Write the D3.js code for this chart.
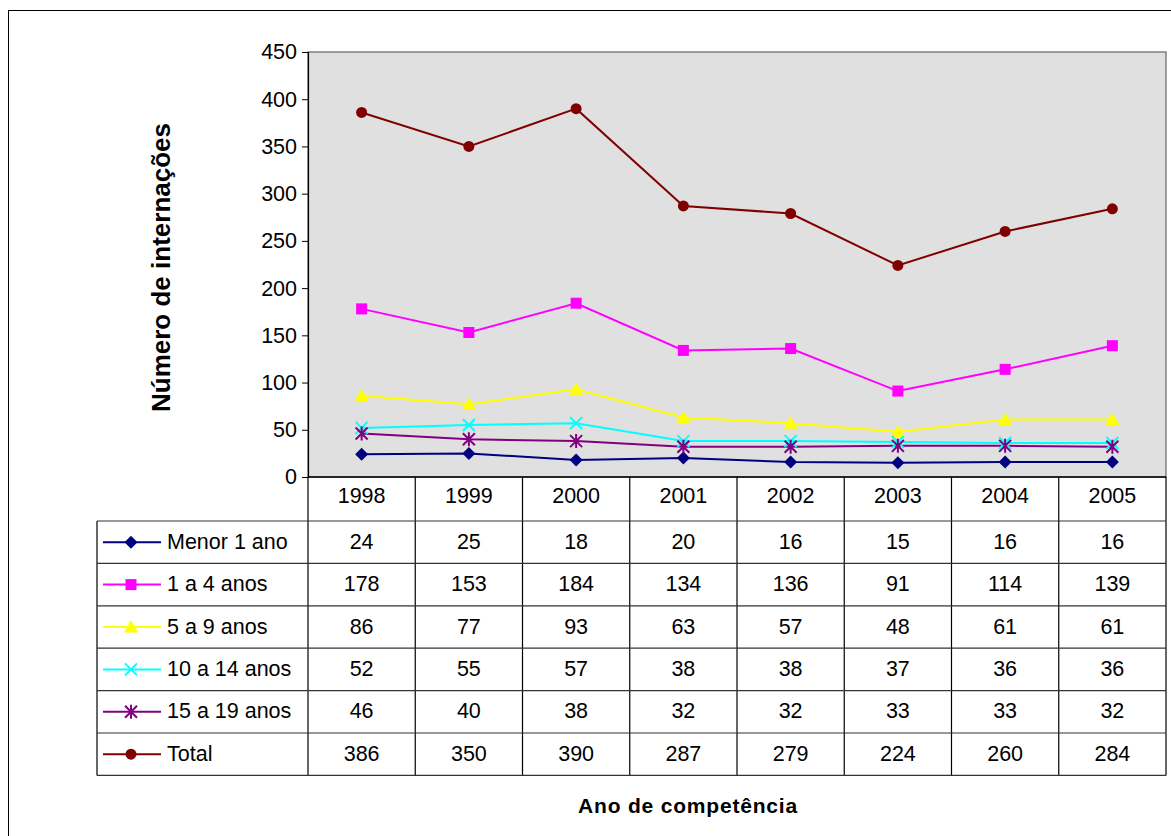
<!DOCTYPE html>
<html>
<head>
<meta charset="utf-8">
<script src="https://cdn.jsdelivr.net/npm/d3@7"></script>
<style>
  body { margin: 0; background: #fff; }
  text { font-family: Arial, "Liberation Sans", sans-serif; }
</style>
</head>
<body>
<div id="chart"></div>
<script>
// data
var years = ["1998", "1999", "2000", "2001", "2002", "2003", "2004", "2005"];
var seriesNames = ["Menor 1 ano", "1 a 4 anos", "5 a 9 anos", "10 a 14 anos", "15 a 19 anos", "Total"];
var menor1 = [24, 25, 18, 20, 16, 15, 16, 16];
var anos1a4 = [178, 153, 184, 134, 136, 91, 114, 139];
var anos5a9 = [86, 77, 93, 63, 57, 48, 61, 61];
var anos10a14 = [52, 55, 57, 38, 38, 37, 36, 36];
var anos15a19 = [46, 40, 38, 32, 32, 33, 33, 32];
var total = [386, 350, 390, 287, 279, 224, 260, 284];
var yTicks = [0, 50, 100, 150, 200, 250, 300, 350, 400, 450];

var colors = ["#000080", "#ff00ff", "#ffff00", "#00ffff", "#800080", "#800000"];
var markers = ["diamond", "square", "triangle", "x", "star", "circle"];
var allValues = [menor1, anos1a4, anos5a9, anos10a14, anos15a19, total];

var series = seriesNames.map(function(name, i) {
  return {name: name, values: allValues[i], color: colors[i], marker: markers[i]};
});

var W = 1171, H = 836;
var FS = "21.5px";
var svg = d3.select("#chart").append("svg")
  .attr("width", W).attr("height", H);

// outer frame
svg.append("rect")
  .attr("x", 8.5).attr("y", 10.5)
  .attr("width", 1175).attr("height", 840)
  .attr("fill", "none").attr("stroke", "#000").attr("stroke-width", 1);

var plot = {left: 308, right: 1166, top: 52, bottom: 477};

var x = d3.scaleBand()
  .domain(years)
  .range([plot.left, plot.right]);

var y = d3.scaleLinear()
  .domain([0, 450])
  .range([plot.bottom, plot.top]);

// plot background
svg.append("rect")
  .attr("x", plot.left).attr("y", plot.top)
  .attr("width", plot.right - plot.left).attr("height", plot.bottom - plot.top)
  .attr("fill", "#e0e0e0").attr("stroke", "#808080").attr("stroke-width", 1.5);

// y axis
var yAxis = svg.append("g")
  .attr("transform", "translate(" + plot.left + ",0)")
  .call(d3.axisLeft(y).tickValues(yTicks).tickSize(6).tickPadding(5));
yAxis.selectAll("text").style("font-size", FS).attr("fill", "#000")
  .style("font-family", "Arial, 'Liberation Sans', sans-serif");
yAxis.selectAll("line").attr("stroke", "#000");
yAxis.select(".domain").attr("stroke", "#000").attr("stroke-width", 1.2);

// y axis title
svg.append("text")
  .attr("transform", "translate(170," + ((plot.top + plot.bottom) / 2 + 3) + ") rotate(-90)")
  .attr("text-anchor", "middle")
  .style("font-size", "26px").style("font-weight", "bold")
  .text("Número de internações");

// lines
var line = d3.line()
  .x(function(d, i) { return x(years[i]) + x.bandwidth() / 2; })
  .y(function(d) { return y(d); });

series.forEach(function(s) {
  svg.append("path")
    .datum(s.values)
    .attr("d", line)
    .attr("fill", "none")
    .attr("stroke", s.color)
    .attr("stroke-width", 2);
});

function drawMarker(g, type, color, cx, cy) {
  if (type === "diamond") {
    g.append("path").attr("d", "M" + cx + "," + (cy - 6.5) + "L" + (cx + 6.5) + "," + cy + "L" + cx + "," + (cy + 6.5) + "L" + (cx - 6.5) + "," + cy + "Z")
      .attr("fill", color);
  } else if (type === "square") {
    g.append("rect").attr("x", cx - 5.5).attr("y", cy - 5.5).attr("width", 11).attr("height", 11).attr("fill", color);
  } else if (type === "triangle") {
    g.append("path").attr("d", "M" + cx + "," + (cy - 7) + "L" + (cx + 7) + "," + (cy + 5.5) + "L" + (cx - 7) + "," + (cy + 5.5) + "Z")
      .attr("fill", color);
  } else if (type === "x") {
    g.append("path").attr("d", "M" + (cx - 6) + "," + (cy - 6) + "L" + (cx + 6) + "," + (cy + 6) + "M" + (cx + 6) + "," + (cy - 6) + "L" + (cx - 6) + "," + (cy + 6))
      .attr("stroke", color).attr("stroke-width", 2).attr("fill", "none");
  } else if (type === "star") {
    g.append("path").attr("d", "M" + (cx - 6) + "," + (cy - 6) + "L" + (cx + 6) + "," + (cy + 6) + "M" + (cx + 6) + "," + (cy - 6) + "L" + (cx - 6) + "," + (cy + 6) + "M" + cx + "," + (cy - 7) + "L" + cx + "," + (cy + 7))
      .attr("stroke", color).attr("stroke-width", 2).attr("fill", "none");
  } else if (type === "circle") {
    g.append("circle").attr("cx", cx).attr("cy", cy).attr("r", 5.5).attr("fill", color);
  }
}

series.forEach(function(s) {
  var g = svg.append("g");
  s.values.forEach(function(v, i) {
    drawMarker(g, s.marker, s.color, x(years[i]) + x.bandwidth() / 2, y(v));
  });
});

// data table
var tableLeft = 97, headerBottom = 521, rowH = 42.4;
var tg = svg.append("g");

// header row (years)
years.forEach(function(yr) {
  tg.append("text")
    .attr("x", x(yr) + x.bandwidth() / 2).attr("y", 497)
    .attr("text-anchor", "middle").attr("dominant-baseline", "middle")
    .style("font-size", FS).text(yr);
});

var tableBottom = headerBottom + rowH * series.length;

// vertical lines
years.forEach(function(yr, i) {
  tg.append("line")
    .attr("x1", x(yr)).attr("x2", x(yr))
    .attr("y1", plot.bottom).attr("y2", tableBottom)
    .attr("stroke", "#000").attr("stroke-width", 1.2);
});
tg.append("line")
  .attr("x1", plot.right).attr("x2", plot.right)
  .attr("y1", plot.bottom).attr("y2", tableBottom)
  .attr("stroke", "#000").attr("stroke-width", 1.2);
tg.append("line")
  .attr("x1", tableLeft).attr("x2", tableLeft)
  .attr("y1", headerBottom).attr("y2", tableBottom)
  .attr("stroke", "#000").attr("stroke-width", 1.2);

// horizontal lines
for (var r = 0; r <= series.length; r++) {
  tg.append("line")
    .attr("x1", tableLeft).attr("x2", plot.right)
    .attr("y1", headerBottom + r * rowH).attr("y2", headerBottom + r * rowH)
    .attr("stroke", "#333").attr("stroke-width", 1.2);
}
// bottom of plot / header line
tg.append("line")
  .attr("x1", plot.left).attr("x2", plot.right)
  .attr("y1", plot.bottom).attr("y2", plot.bottom)
  .attr("stroke", "#000").attr("stroke-width", 1.5);

series.forEach(function(s, r) {
  var cy = headerBottom + r * rowH + rowH / 2;
  // legend key
  tg.append("line")
    .attr("x1", 103).attr("x2", 161).attr("y1", cy).attr("y2", cy)
    .attr("stroke", s.color).attr("stroke-width", 2);
  drawMarker(tg, s.marker, s.color, 131, cy);
  tg.append("text")
    .attr("x", 167).attr("y", cy + 1)
    .attr("dominant-baseline", "middle")
    .style("font-size", FS).text(s.name);
  s.values.forEach(function(v, i) {
    tg.append("text")
      .attr("x", x(years[i]) + x.bandwidth() / 2).attr("y", cy + 1)
      .attr("text-anchor", "middle").attr("dominant-baseline", "middle")
      .style("font-size", FS).text(v);
  });
});

// x axis title
svg.append("text")
  .attr("x", 688).attr("y", 813)
  .attr("text-anchor", "middle")
  .style("font-size", "21px").style("font-weight", "bold")
  .style("letter-spacing", "0.8px")
  .text("Ano de competência");
</script>
</body>
</html>
